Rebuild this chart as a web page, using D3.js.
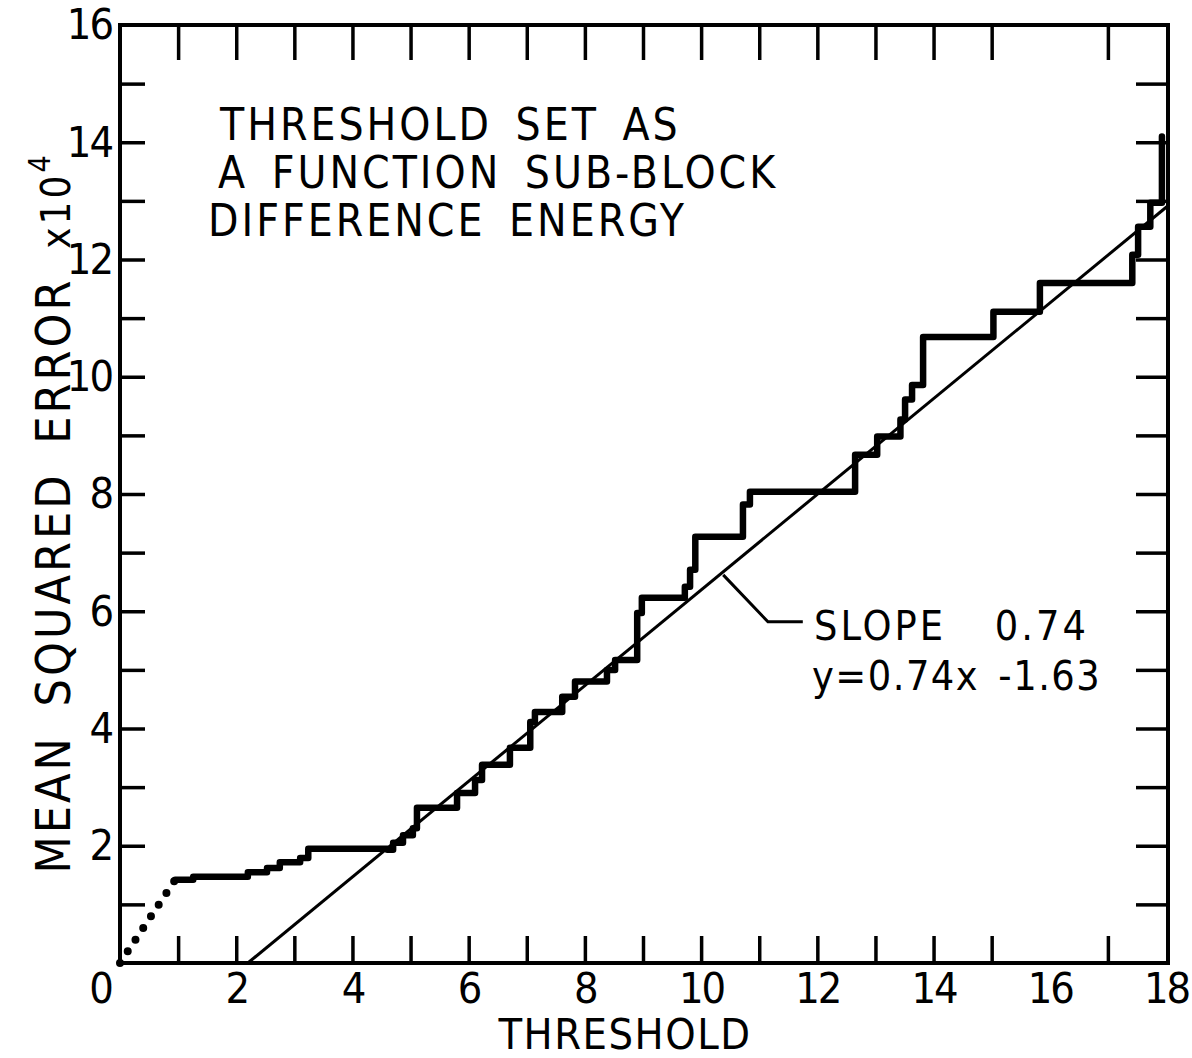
<!DOCTYPE html>
<html>
<head>
<meta charset="utf-8">
<script src="https://cdn.jsdelivr.net/npm/d3@7"></script>
<style>
  body { margin: 0; background: #ffffff; }
  text { font-family: "DejaVu Sans Condensed", "DejaVu Sans", sans-serif; fill: #000; }
</style>
</head>
<body>
<div id="chart"></div>
<script>
// staircase: threshold where each level starts, and its MSE (x10^4)
var stepX = [0.95, 1.26, 2.20, 2.53, 2.75, 3.10, 3.24, 4.60, 4.70, 4.87, 5.04, 5.11,
	5.80, 6.11, 6.23, 6.71, 7.06, 7.14, 7.61, 7.83, 8.38, 8.52, 8.90, 8.98, 9.72, 9.81, 9.90,
	10.72, 10.84, 12.65, 13.03, 13.43, 13.51, 13.63, 13.82, 15.03, 15.83, 17.42, 17.52, 17.73, 17.93];
var stepY = [1.42, 1.47, 1.55, 1.62, 1.72, 1.79, 1.95, 1.93, 2.05, 2.18, 2.30, 2.65,
	2.90, 3.12, 3.38, 3.67, 4.11, 4.28, 4.54, 4.80, 5.00, 5.17, 5.97, 6.23, 6.42, 6.71, 7.27,
	7.82, 8.04, 8.67, 8.98, 9.27, 9.61, 9.86, 10.68, 11.11, 11.60, 12.08, 12.56, 12.97, 14.10];
// dotted extrapolation to the origin
var dotX = [0, 0.95];
var dotY = [0, 1.42];
// fitted line as drawn
var fitX = [2.2, 18.05];
var fitY = [0, 12.93];
// leader from the fit line to the label
var leaderX = [10.38, 11.15, 11.75];
var leaderY = [6.62, 5.82, 5.82];

var xTicks = d3.range(0, 19);
var yTicks = d3.range(0, 17);

var titleLines = ["THRESHOLD SET AS", "A FUNCTION SUB-BLOCK", "DIFFERENCE ENERGY"];

var margin = {top: 25, right: 26, bottom: 95, left: 120},
	width = 1192 - margin.left - margin.right,
	height = 1058 - margin.top - margin.bottom;

var svg = d3.select("#chart").append("svg")
	.attr("width", 1192)
	.attr("height", 1058);

var g = svg.append("g")
	.attr("transform", "translate(" + margin.left + "," + margin.top + ")");

var x = d3.scaleLinear().domain([0, 18]).range([0, 1046]);
var y = d3.scaleLinear().domain([0, 16]).range([938, 0]);

// axes, ticks pointing inward
var xAxis = d3.axisBottom(x).tickValues(xTicks).tickSize(-27).tickPadding(9)
	.tickFormat(function(d) { return d % 2 === 0 ? d : ""; });
var gx = g.append("g")
	.attr("transform", "translate(0," + y(0) + ")")
	.call(xAxis);
gx.selectAll("text").filter(function(d) { return d === 0; }).attr("dx", "-20");

var yAxis = d3.axisLeft(y).tickValues(yTicks).tickSize(-25).tickPadding(8)
	.tickFormat(function(d) { return (d % 2 === 0 && d > 0) ? d : ""; });
var gy = g.append("g").call(yAxis);

g.append("g").call(d3.axisTop(x).tickValues(xTicks).tickSize(-35).tickFormat(""));
g.append("g")
	.attr("transform", "translate(" + x(18) + ",0)")
	.call(d3.axisRight(y).tickValues(yTicks).tickSize(-30).tickFormat(""));

g.selectAll(".domain").remove();
g.selectAll(".tick line").attr("stroke", "#000").attr("stroke-width", 3.5);
g.selectAll(".tick line").filter(function(d) { return d === 0 || d === 18 || d === 16; }).remove();
g.selectAll(".tick text")
	.attr("font-size", "43px")
	.attr("letter-spacing", "-2")
	.attr("fill", "#000");

// frame
g.append("rect")
	.attr("x", x(0)).attr("y", y(16))
	.attr("width", x(18) - x(0) + 2).attr("height", y(0) - y(16))
	.attr("fill", "none").attr("stroke", "#000").attr("stroke-width", 4);

var line = d3.line().x(function(d) { return x(d[0]); }).y(function(d) { return y(d[1]); });

// fitted straight line
g.append("path")
	.datum(fitX.map(function(v, i) { return [v, fitY[i]]; }))
	.attr("d", line)
	.attr("fill", "none").attr("stroke", "#000").attr("stroke-width", 3);

// leader
g.append("path")
	.datum(leaderX.map(function(v, i) { return [v, leaderY[i]]; }))
	.attr("d", line)
	.attr("fill", "none").attr("stroke", "#000").attr("stroke-width", 3);

// dotted segment
g.append("path")
	.datum(dotX.map(function(v, i) { return [v, dotY[i]]; }))
	.attr("d", line)
	.attr("fill", "none").attr("stroke", "#000").attr("stroke-width", 8)
	.attr("stroke-linecap", "round").attr("stroke-dasharray", "0 14");

// staircase
g.append("path")
	.datum(stepX.map(function(v, i) { return [v, stepY[i]]; }))
	.attr("d", line.curve(d3.curveStepAfter))
	.attr("fill", "none").attr("stroke", "#000").attr("stroke-width", 6.5)
	.attr("stroke-linejoin", "round").attr("stroke-linecap", "round");

// title block
svg.selectAll(".title")
	.data(titleLines)
	.enter()
	.append("text")
		.attr("class", "title")
		.attr("x", function(d, i) { return [220, 218, 208][i]; })
		.attr("y", function(d, i) { return 140 + i * 48; })
		.attr("font-size", "44px")
		.attr("letter-spacing", "3")
		.attr("word-spacing", "8")
		.text(function(d) { return d; });

// slope annotation
svg.append("text")
	.attr("x", 814).attr("y", 640)
	.attr("font-size", "41px")
	.attr("letter-spacing", "3")
	.attr("word-spacing", "34")
	.text("SLOPE 0.74");
svg.append("text")
	.attr("x", 812).attr("y", 690)
	.attr("font-size", "41px")
	.attr("letter-spacing", "1.5")
	.attr("word-spacing", "6")
	.text("y=0.74x -1.63");

// axis titles
svg.append("text")
	.attr("x", 625).attr("y", 1049)
	.attr("text-anchor", "middle")
	.attr("font-size", "43px")
	.attr("letter-spacing", "1.5")
	.text("THRESHOLD");

var yl = svg.append("text")
	.attr("transform", "translate(70,513) rotate(-90)")
	.attr("text-anchor", "middle")
	.attr("font-size", "48px")
	.attr("letter-spacing", "3")
	.attr("word-spacing", "12");
yl.append("tspan").text("MEAN SQUARED ERROR ");
yl.append("tspan").attr("font-size", "40px").text("x10");
yl.append("tspan").attr("font-size", "30px").attr("dy", "-20").text("4");
</script>
</body>
</html>
